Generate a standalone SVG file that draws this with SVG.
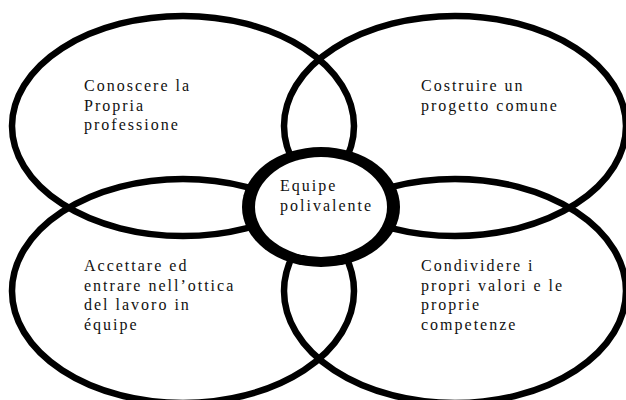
<svg xmlns="http://www.w3.org/2000/svg" width="626" height="400" viewBox="0 0 626 400">
<style>
.ring{fill:none;stroke:#000;stroke-width:6.5}
.t{font-family:"Liberation Serif","Times New Roman",serif;font-size:16px;fill:#111;letter-spacing:2px}
</style>
<rect width="626" height="400" fill="#fff"/>
<g id="conoscere">
<ellipse class="ring" cx="183" cy="126" rx="171" ry="110"/>
<text class="t" x="84" y="91"><tspan x="84" y="91">Conoscere la</tspan><tspan x="84" y="110.5">Propria</tspan><tspan x="84" y="130">professione</tspan></text>
</g>
<g id="costruire">
<ellipse class="ring" cx="455" cy="126" rx="171" ry="110"/>
<text class="t" x="421" y="91"><tspan x="421" y="91">Costruire un</tspan><tspan x="421" y="111">progetto comune</tspan></text>
</g>
<g id="accettare">
<ellipse class="ring" cx="183" cy="291" rx="171" ry="112"/>
<text class="t" x="84" y="271"><tspan x="84" y="271">Accettare ed</tspan><tspan x="84" y="290.5">entrare nell’ottica</tspan><tspan x="84" y="310">del lavoro in</tspan><tspan x="84" y="329.5">équipe</tspan></text>
</g>
<g id="condividere">
<ellipse class="ring" cx="455" cy="291" rx="171" ry="112"/>
<text class="t" x="421" y="271"><tspan x="421" y="271">Condividere i</tspan><tspan x="421" y="290.5">propri valori e le</tspan><tspan x="421" y="310">proprie</tspan><tspan x="421" y="329.5">competenze</tspan></text>
</g>
<g id="equipe">
<ellipse cx="321" cy="207" rx="79" ry="60" fill="#000"/>
<ellipse cx="321" cy="207" rx="66" ry="50" fill="#fff"/>
<text class="t" x="280" y="191"><tspan x="280" y="191">Equipe</tspan><tspan x="280" y="211">polivalente</tspan></text>
</g>
<g id="connectors"/>
</svg>
